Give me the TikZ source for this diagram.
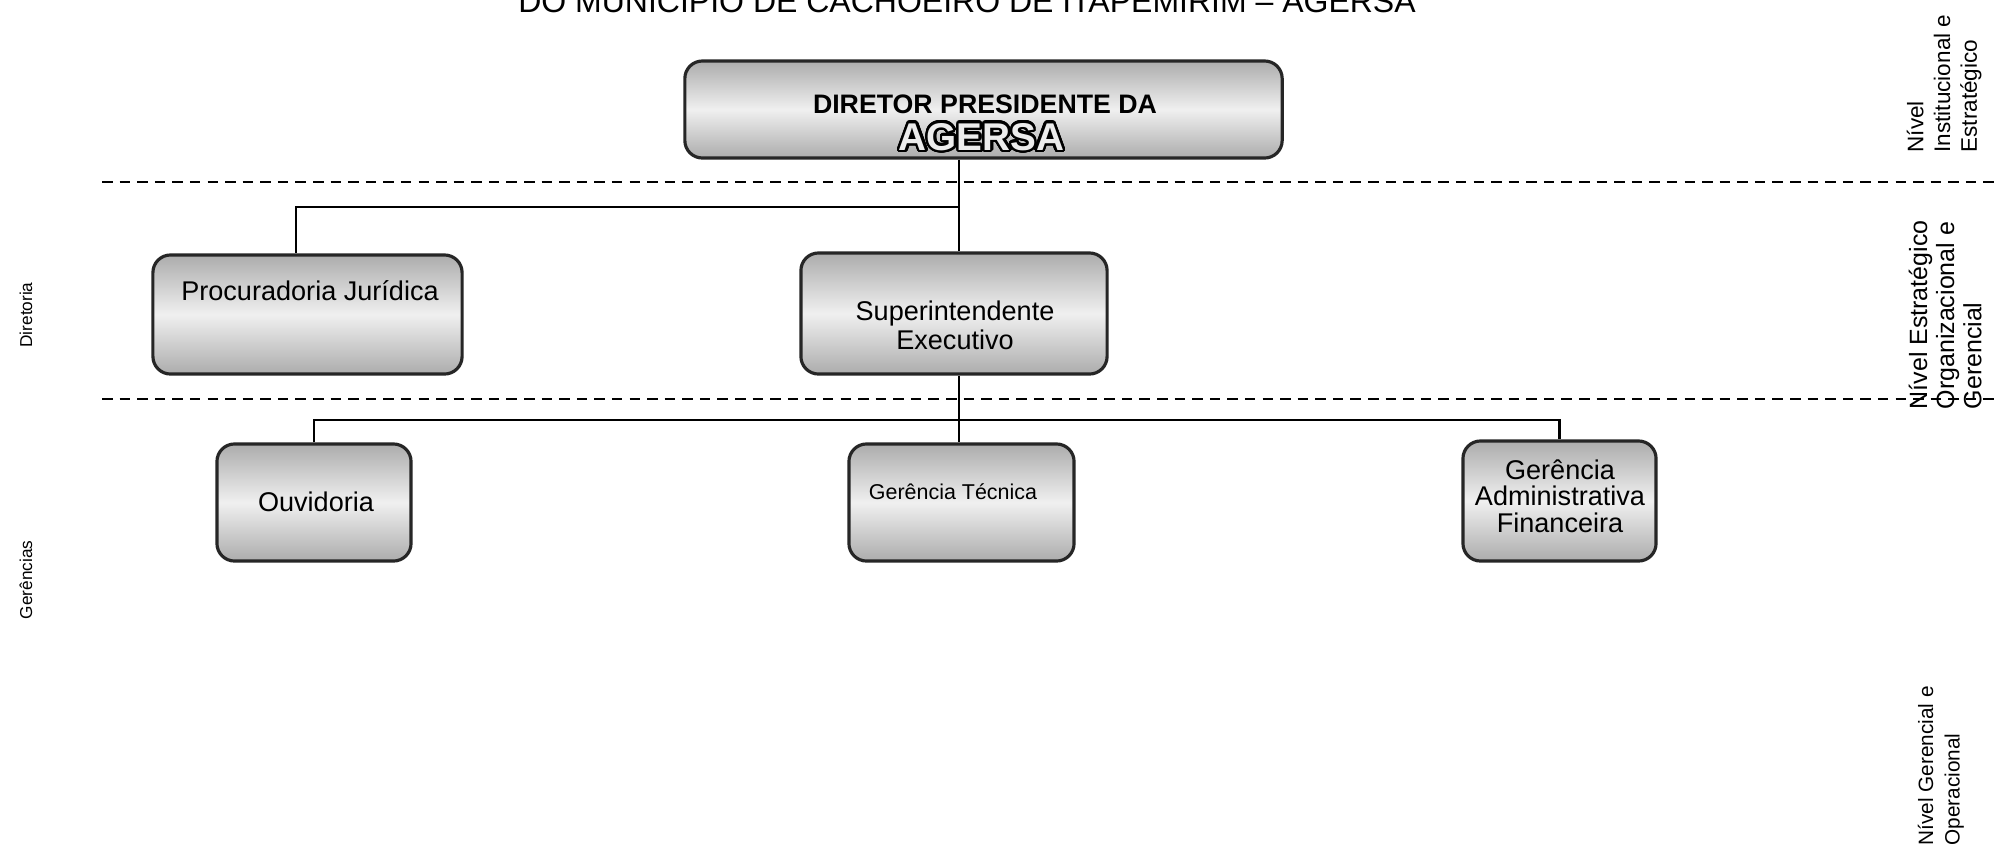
\documentclass[tikz,border=0pt]{standalone}
\usepackage{fontspec}
\setmainfont{Liberation Sans}
\usepackage{contour}
\contourlength{0.7pt}
\contournumber{32}
\begin{document}
\begin{tikzpicture}[x=0.01cm,y=-0.01cm,
  box/.style={draw=black!85, line width=0.9pt, rounded corners=5pt, top color=gray!65, bottom color=gray!65, middle color=gray!12, inner sep=0pt},
  conn/.style={line width=0.75pt, draw=black},
  sep/.style={line width=0.6pt, dash pattern=on 3pt off 2pt},
  boxtext/.style={font=\fontsize{7.7}{8.2}\selectfont, align=center, inner sep=0pt},
  level/.style={rotate=90, anchor=north west, align=left, inner sep=0pt},
  side/.style={rotate=90, inner sep=0pt, font=\fontsize{4.9}{6}\selectfont}]
\useasboundingbox (0,0) rectangle (2000,851);
\clip (0,0) rectangle (2000,851);
\fill[white] (0,0) rectangle (2000,851);

% title (cut at top)
\node[anchor=base, inner sep=0pt, font=\fontsize{9.1}{10}\selectfont] (title) at (967,12) {DO MUNICÍPIO DE CACHOEIRO DE ITAPEMIRIM – AGERSA};

% separators
\coordinate (d1s) at (102,182); \coordinate (d1e) at (2000,182);
\coordinate (d2s) at (102,399); \coordinate (d2e) at (2000,399);
\draw[sep] (d1s) -- (d1e);
\draw[sep] (d2s) -- (d2e);

% boxes
\node[box, minimum width=5.97cm, minimum height=0.97cm] (dir) at (983.5,109.5) {};
\node[box, minimum width=3.09cm, minimum height=1.19cm] (proc) at (307.5,314.5) {};
\node[box, minimum width=3.06cm, minimum height=1.21cm] (sup) at (954,313.5) {};
\node[box, minimum width=1.94cm, minimum height=1.17cm] (ouv) at (314,502.5) {};
\node[box, minimum width=2.25cm, minimum height=1.17cm] (gt) at (961.5,502.5) {};
\node[box, minimum width=1.93cm, minimum height=1.20cm] (adm) at (1559.5,501) {};

% texts in boxes
\node[inner sep=0pt, font=\fontsize{7.6}{8}\selectfont\bfseries] (dirt1) at (985,104) {DIRETOR PRESIDENTE DA};
\node[inner sep=0pt, font=\fontsize{11}{12}\selectfont\bfseries] (dirt2) at (981.5,138) {\contour{black}{\textcolor{gray!15}{AGERSA}}};
\node[boxtext] (proct) at (310,291) {Procuradoria Jurídica};
\node[boxtext] (supt) at (955,325) {Superintendente\\Executivo};
\node[boxtext] (ouvt) at (316,502) {Ouvidoria};
\node[boxtext, font=\fontsize{6.1}{7}\selectfont] (gtt) at (953,492) {Gerência Técnica};
\node[boxtext, font=\fontsize{7.7}{7.6}\selectfont] (admt) at (1560,496) {Gerência\\Administrativa\\Financeira};

% connectors
\coordinate (trunk) at (959,0);
\coordinate (b1) at (959,207);
\coordinate (b2) at (959,420);
\draw[conn] (dir.south -| trunk) -- (sup.north -| trunk);
\draw[conn] (b1) -| ([xshift=-0.115cm]proc.north);
\draw[conn] (sup.south -| trunk) -- (gt.north -| trunk);
\draw[conn] (ouv.north) |- (b2) -| (adm.north);

% level labels (right)
\node[level, font=\fontsize{6.4}{7.6}\selectfont] (lv1) at (1906,153) {Nível\\Institucional e\\Estratégico};
\node[level, font=\fontsize{7.1}{7.7}\selectfont] (lv2) at (1908,410) {Nível Estratégico\\Organizacional e\\Gerencial};
\node[level, font=\fontsize{5.9}{7.6}\selectfont] (lv3) at (1917,846) {Nível Gerencial e\\Operacional};

% side labels (left)
\node[side] (dirl) at (26,315) {Diretoria};
\node[side] (gerl) at (26,580) {Gerências};
\end{tikzpicture}
\end{document}
